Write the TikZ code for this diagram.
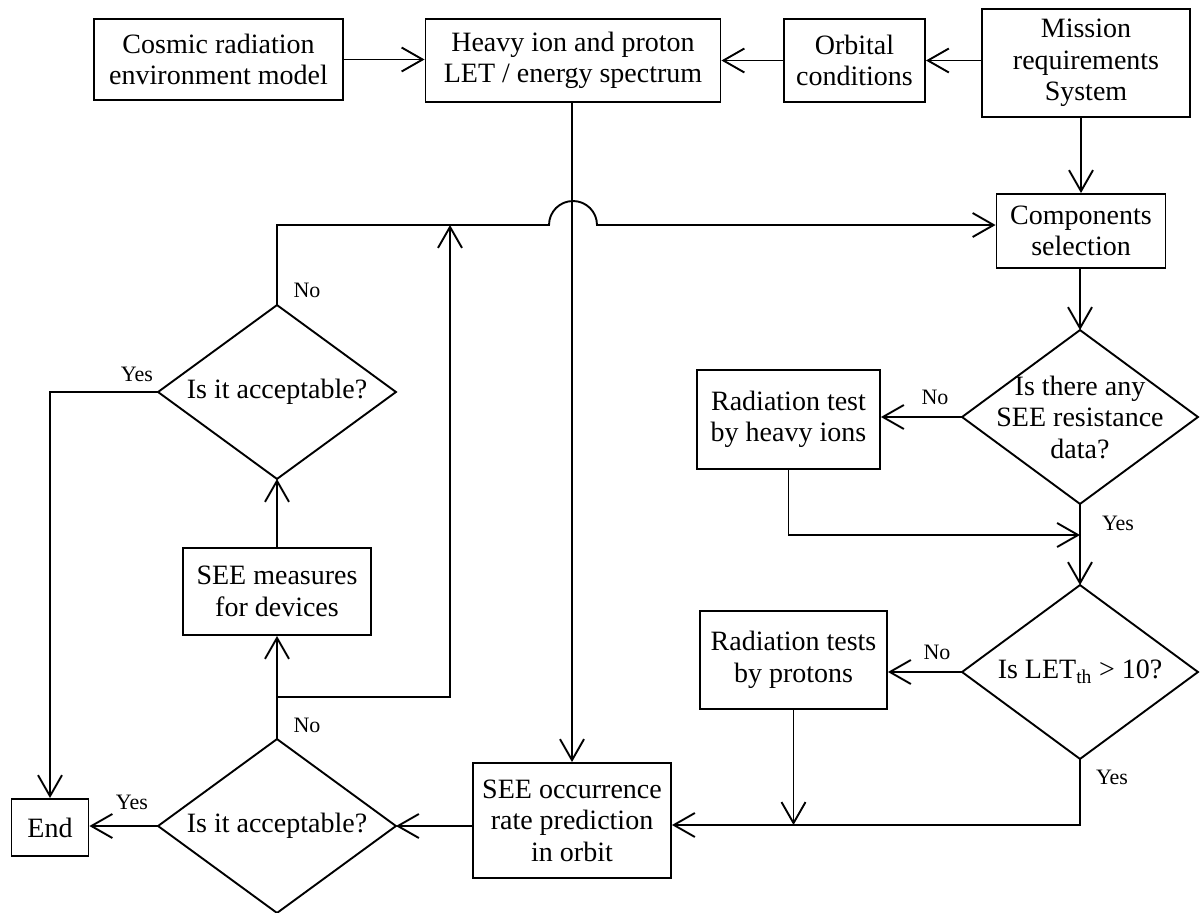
\documentclass[tikz,border=0pt]{standalone}
\usepackage{fontspec}
\setmainfont{Liberation Serif}
\usetikzlibrary{arrows.meta}
\begin{document}
\begin{tikzpicture}[x=1pt,y=-1pt,
  line width=1.9pt,
  >={Straight Barb[length=21pt,width=24pt]},
  box/.style={draw, rectangle, inner sep=0pt, align=center, font=\fontsize{28}{31.5}\selectfont},
  dia/.style={rectangle, inner sep=0pt, align=center, font=\fontsize{28}{31.5}\selectfont},
  lbl/.style={inner sep=0pt, font=\fontsize{22}{24}\selectfont},
]
\useasboundingbox (0,0) rectangle (1200,913);

% boxes
\node[box, minimum width=249pt, minimum height=81pt] (cosmic) at (218.5,59.5) {Cosmic radiation\\environment model};
\node[box, minimum width=295pt, minimum height=83pt] (heavy) at (573,60.5) {Heavy ion and proton\\LET / energy spectrum};
\node[box, minimum width=141pt, minimum height=83pt] (orbital) at (854.5,60.5) {Orbital\\conditions};
\node[box, minimum width=208pt, minimum height=108pt] (mission) at (1086,63) {Mission\\requirements\\System};
\node[box, minimum width=169pt, minimum height=74pt] (comp) at (1081,231) {Components\\selection};
\node[box, minimum width=183pt, minimum height=99pt] (htest) at (788.5,419.5) {Radiation test\\by heavy ions};
\node[box, minimum width=187pt, minimum height=98pt] (ptest) at (793.5,660) {Radiation tests\\by protons};
\node[box, minimum width=198pt, minimum height=115pt] (pred) at (572,820.5) {SEE occurrence\\rate prediction\\in orbit};
\node[box, minimum width=77pt, minimum height=57pt] (fin) at (50,827.5) {End};
\node[box, minimum width=188pt, minimum height=87pt] (meas) at (277,591.5) {SEE measures\\for devices};

% decisions
\node[dia, minimum width=234pt, minimum height=172pt] (q1) at (1080,417) {Is there any\\SEE resistance\\data?};
\node[dia, minimum width=234pt, minimum height=172pt] (q2) at (1080,672) {Is LET\textsubscript{th} > 10?};
\node[dia, minimum width=236pt, minimum height=172pt] (acc1) at (277,392) {Is it acceptable?};
\node[dia, minimum width=236pt, minimum height=172pt] (acc2) at (277,826) {Is it acceptable?};
\foreach \d in {q1,q2,acc1,acc2}
  \draw (\d.north) -- (\d.east) -- (\d.south) -- (\d.west) -- cycle;

% helper coordinates
\coordinate (hl) at (549,225);
\coordinate (hr) at (597,225);
\coordinate (up) at (450,225);
\coordinate (j1) at (277,697);
\coordinate (m1) at (1080,535);
\coordinate (m2) at (1080,825);

% connectors
\draw[->] (cosmic.east) -- (cosmic.east -| heavy.west);
\draw[->] (orbital.west) -- (heavy.east |- orbital.west);
\draw[->] (mission.west |- orbital.east) -- (orbital.east);
\draw[->] (comp.north |- mission.south) -- (comp.north);
\draw[->] (comp.south -| q1.north) -- (q1.north);
\draw[->] (q1.west) -- (q1.west -| htest.east);
\draw[->] (htest.south) -- (htest.south |- m1) -- (m1);
\draw[->] (q1.south) -- (q2.north);
\draw[->] (q2.west) -- (q2.west -| ptest.east);
\draw[->] (q2.south) -- (m2) -- (m2 -| pred.east);
\draw[->] (ptest.south) -- (ptest.south |- m2);
\draw[->] (heavy.south -| pred.north) -- (pred.north);
\draw[->] (pred.west |- acc2.east) -- (acc2.east);
\draw[->] (acc2.west) -- (fin.east |- acc2.west);
\draw[->] (acc2.north) -- (meas.south);
\draw[->] (j1) -- (j1 -| up) -- (up);
\draw[->] (meas.north) -- (acc1.south);
\draw[->] (acc1.west) -- (acc1.west -| fin.north) -- (fin.north);
\draw[->] (acc1.north) -- (acc1.north |- hl) -- (hl)
  arc[start angle=180, end angle=0, radius=24pt] -- (hr -| comp.west);

% labels
\node[lbl] (l1) at (307,290) {No};
\node[lbl] (l2) at (137,374) {Yes};
\node[lbl] (l3) at (935,397) {No};
\node[lbl] (l4) at (1118,523) {Yes};
\node[lbl] (l5) at (937,652) {No};
\node[lbl] (l6) at (1112,777) {Yes};
\node[lbl] (l7) at (307,725) {No};
\node[lbl] (l8) at (132,802) {Yes};
\end{tikzpicture}
\end{document}
